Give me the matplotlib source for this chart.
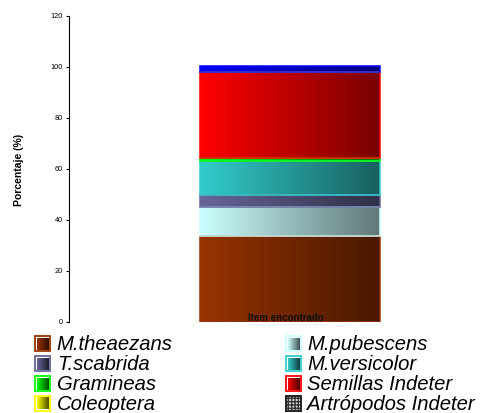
import numpy as np
import matplotlib
matplotlib.use("Agg")
import matplotlib.pyplot as plt
from matplotlib.colors import to_rgb
from matplotlib.patches import Rectangle

plt.rcParams['font.family'] = ['Liberation Sans', 'DejaVu Sans']
plt.rcParams['hatch.linewidth'] = 1.0

# Diet composition (% of items found), stacked bottom to top
categories = ['M.theaezans', 'M.pubescens', 'T.scabrida', 'M.versicolor',
              'Gramineas', 'Semillas Indeter', 'Coleoptera', 'Artrópodos Indeter']
values = [33.7, 11.5, 4.6, 13.3, 1.1, 33.6, 0.3, 2.2]
colors = ['#993300', '#ccffff', '#666699', '#33cccc',
          '#00ff00', '#ff0000', '#ffff00', '#0000ff']
x_label = 'Item encontrado'
y_label = 'Porcentaje (%)'
y_ticks = [0, 20, 40, 60, 80, 100, 120]

W, H = 482, 413
fig = plt.figure(figsize=(W / 100, H / 100), dpi=100)

ax_left, ax_right, ax_top, ax_bottom = 69, 470, 15.7, 322
ax = fig.add_axes([ax_left / W, (H - ax_bottom) / H,
                   (ax_right - ax_left) / W, (ax_bottom - ax_top) / H])

px_per_unit = 200.0
xmin = -(290 - ax_left) / px_per_unit
xmax = (ax_right - 290) / px_per_unit
bar_width = 180 / px_per_unit


def gradient(color, n=200, dark=0.47):
    c = np.array(to_rgb(color))
    t = np.linspace(0, 1, n)
    f = 1 - (1 - dark) * t
    return (c[None, :] * f[:, None])[None, :, :]


bottoms = np.concatenate([[0], np.cumsum(values)[:-1]])
bars = ax.bar([0] * len(values), values, bottom=bottoms, width=bar_width,
              color='none', edgecolor=colors, linewidth=1.1, zorder=3)
for patch, col in zip(bars.patches, colors):
    x0, y0 = patch.get_x(), patch.get_y()
    im = ax.imshow(gradient(col), extent=[x0, x0 + patch.get_width(), y0, y0 + patch.get_height()],
                   aspect='auto', interpolation='bilinear', zorder=2)
    im.set_clip_path(patch)

ax.set_xlim(xmin, xmax)
ax.set_ylim(0, 120)
ax.set_yticks(y_ticks)
ax.set_xticks([])
for s in ['top', 'right', 'bottom']:
    ax.spines[s].set_visible(False)
ax.spines['left'].set_linewidth(0.8)
ax.tick_params(axis='y', length=2.3, width=0.8, pad=2, labelsize=5.3)

ax.text(-0.02, 0.2, x_label, ha='center', va='baseline', fontsize=7,
        fontweight='bold', color='#111111', zorder=5)

fig.text(18.7 / W, 1 - 170 / H, y_label, rotation=90, ha='center', va='center',
         fontsize=7.5, fontweight='bold')

# Legend drawn in pixel coordinates below the chart
lg = fig.add_axes([0, 0, 1, 1])
lg.set_xlim(0, W)
lg.set_ylim(H, 0)
lg.axis('off')
row_centers = [343.7, 363.6, 383.6, 403.5]
handle_x = [35, 286]
text_x = [56.7, 307]
hs = 15
for i, (name, col) in enumerate(zip(categories, colors)):
    r, c = i // 2, i % 2
    hx, hy = handle_x[c], row_centers[r] - hs / 2
    if name.startswith('Artrópodos'):
        lg.add_patch(Rectangle((hx, hy), hs, hs, facecolor='#dddddd', edgecolor='#333333',
                               hatch='+++++', linewidth=0))
        lg.add_patch(Rectangle((hx, hy), hs, hs, facecolor='none', edgecolor='#222222',
                               linewidth=1.4))
    else:
        lg.imshow(gradient(col, dark=0.3), extent=[hx + 1.5, hx + hs - 1.5, hy + hs - 1.5, hy + 1.5],
                  aspect='auto', interpolation='bilinear')
        lg.add_patch(Rectangle((hx, hy), hs, hs, facecolor='none', edgecolor=col,
                               linewidth=1.3))
    lg.text(text_x[c], row_centers[r] + 6, name, ha='left', va='baseline',
            fontsize=14.6, fontstyle='italic', color='black')
lg.set_xlim(0, W)
lg.set_ylim(H, 0)

fig.savefig('out.png', dpi=100)
